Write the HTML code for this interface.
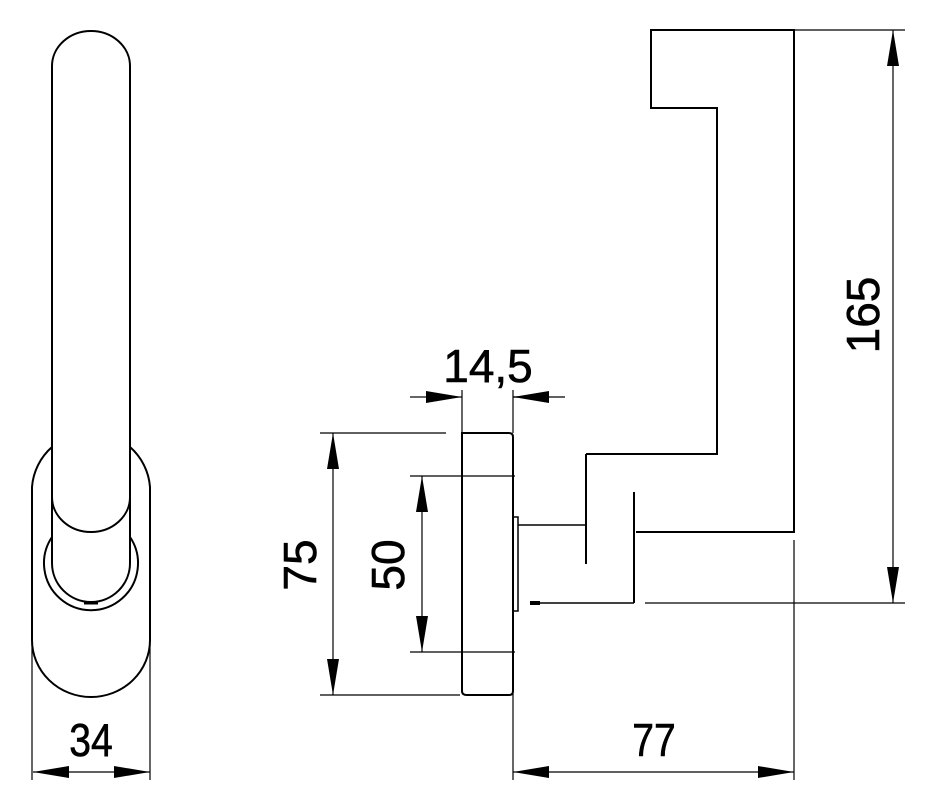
<!DOCTYPE html>
<html><head><style>html,body{margin:0;padding:0;background:#fff}svg{display:block}</style></head>
<body>
<svg width="943" height="800" viewBox="0 0 943 800" xmlns="http://www.w3.org/2000/svg">
<defs>
<marker id="a" viewBox="0 0 36 12" refX="36" refY="6" markerWidth="36" markerHeight="12" markerUnits="userSpaceOnUse" orient="auto"><path d="M0,0 L36,6 L0,12 Z" fill="#000"/></marker>
<marker id="b" viewBox="0 0 36 12" refX="0" refY="6" markerWidth="36" markerHeight="12" markerUnits="userSpaceOnUse" orient="auto"><path d="M36,0 L0,6 L36,12 Z" fill="#000"/></marker>
</defs>
<g fill="none" stroke="#000" stroke-width="2">
<path d="M52,520 L52,66 A39,35 0 0 1 130,66 L130,520"/>
<path d="M52,497 A39,35 0 0 0 130,497"/>
<path d="M52,520 L52,563 A39,39 0 0 0 130,563 L130,520"/>
<path d="M52,537 A47,47 0 1 0 130,537"/>
<path d="M52,447 A59,59 0 0 0 32,487 L32,640 A59,57 0 0 0 150,640 L150,487 A59,59 0 0 0 130,447"/>
<path d="M84,603 L98,603" stroke-width="3"/>
</g>
<g fill="none" stroke="#000" stroke-width="1.2">
<line x1="32" y1="640" x2="32" y2="780"/>
<line x1="150" y1="640" x2="150" y2="780"/>
<line x1="33" y1="772" x2="150" y2="772" marker-start="url(#b)" marker-end="url(#a)"/>
</g>
<g fill="none" stroke="#000" stroke-width="2">
<path d="M467,433 L509,433 Q513,433 513,437 L513,691 Q513,695 509,695 L467,695 Q462,695 462,691 L462,433 Z"/>
<rect x="513" y="517" width="5" height="94" stroke-width="1.5"/>
<line x1="518" y1="525" x2="585" y2="525" stroke-width="1.5"/>
<line x1="586" y1="454" x2="586" y2="564"/>
<path d="M586,454 L717,454 L717,108 L651,108 L651,30 L794,30 L794,532 L636,532"/>
<line x1="634" y1="492" x2="634" y2="603"/>
<line x1="530" y1="603" x2="634" y2="603" stroke-width="1.5"/>
<line x1="530" y1="603" x2="540" y2="603" stroke-width="4"/>
</g>
<g fill="none" stroke="#000" stroke-width="1.2">
<line x1="462" y1="390" x2="462" y2="433"/>
<line x1="513" y1="390" x2="513" y2="433"/>
<line x1="410" y1="397" x2="426" y2="397"/>
<line x1="426" y1="397" x2="462" y2="397" marker-end="url(#a)"/>
<line x1="513" y1="397" x2="565" y2="397"/>
<line x1="549" y1="397" x2="513" y2="397" marker-end="url(#a)"/>
<line x1="320" y1="433" x2="446" y2="433"/>
<line x1="320" y1="695" x2="460" y2="695"/>
<line x1="333" y1="433" x2="333" y2="695" marker-start="url(#b)" marker-end="url(#a)"/>
<line x1="410" y1="476" x2="515" y2="476"/>
<line x1="410" y1="652" x2="515" y2="652"/>
<line x1="422" y1="476" x2="422" y2="652" marker-start="url(#b)" marker-end="url(#a)"/>
<line x1="513" y1="612" x2="513" y2="780"/>
<line x1="794" y1="540" x2="794" y2="780"/>
<line x1="513" y1="772" x2="794" y2="772" marker-start="url(#b)" marker-end="url(#a)"/>
<line x1="794" y1="30" x2="905" y2="30"/>
<line x1="645" y1="603" x2="905" y2="603"/>
<line x1="893" y1="30" x2="893" y2="603" marker-start="url(#b)" marker-end="url(#a)"/>
</g>
<g font-family="Liberation Sans, sans-serif" font-size="46" fill="#000" text-anchor="middle" stroke="#000" stroke-width="0.6">
<text x="91" y="756" transform="translate(91 0) scale(0.85 1) translate(-91 0)">34</text>
<text x="654" y="756" transform="translate(654 0) scale(0.85 1) translate(-654 0)">77</text>
<text x="488" y="382">14,5</text>
<text transform="translate(316 565) rotate(-90)" y="0">75</text>
<text transform="translate(404 565) rotate(-90)" y="0">50</text>
<text transform="translate(879 315) rotate(-90)" y="0">165</text>
</g>
</svg>
</body></html>
